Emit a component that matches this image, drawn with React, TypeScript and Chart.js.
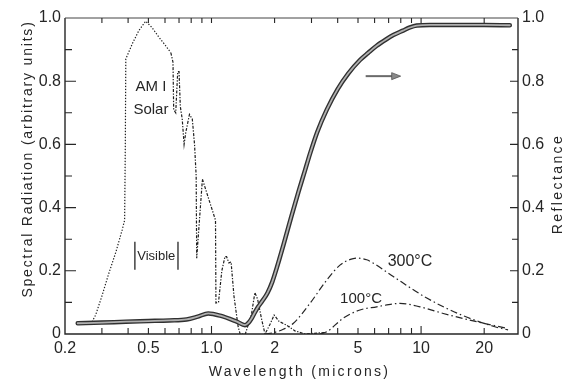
import { useEffect, useRef } from 'react';
import { Chart, registerables } from 'chart.js';

Chart.register(...registerables);

// ---- data ----
const solarWl = [0.265, 0.28, 0.3, 0.323, 0.35, 0.375, 0.385, 0.388, 0.39, 0.42, 0.45, 0.485, 0.52, 0.56, 0.6, 0.64, 0.655, 0.66, 0.675, 0.69, 0.7, 0.71, 0.725, 0.74, 0.755, 0.785, 0.81, 0.83, 0.845, 0.85, 0.905, 1.045, 1.05, 1.08, 1.12, 1.16, 1.18, 1.21, 1.24, 1.28, 1.34, 1.37, 1.45, 1.55, 1.61, 1.66, 1.73, 1.8, 1.9, 1.99, 2.1, 2.28, 2.5, 2.8, 3.5];
const solarVal = [0.03, 0.06, 0.12, 0.19, 0.26, 0.33, 0.36, 0.6, 0.87, 0.92, 0.96, 0.99, 0.97, 0.94, 0.915, 0.89, 0.86, 0.71, 0.7, 0.83, 0.83, 0.72, 0.68, 0.6, 0.64, 0.695, 0.68, 0.6, 0.5, 0.24, 0.49, 0.36, 0.098, 0.1, 0.2, 0.245, 0.245, 0.225, 0.228, 0.12, 0.023, 0.0, 0.0, 0.06, 0.131, 0.11, 0.05, 0.0, 0.03, 0.06, 0.04, 0.028, 0.01, 0.0, 0.005];

const reflWl = [0.23, 0.3, 0.39, 0.5, 0.63, 0.76, 0.86, 0.965, 1.1, 1.32, 1.445, 1.5, 1.55, 1.6, 1.67, 1.75, 1.85, 1.95, 2.05, 2.2, 2.4, 2.6, 2.8, 2.95, 3.2, 3.55, 4.0, 4.5, 5.11, 5.6, 6.14, 6.8, 7.37, 8.2, 8.85, 9.53, 11, 15, 20, 26.5];
const reflVal = [0.034, 0.036, 0.039, 0.041, 0.043, 0.046, 0.055, 0.065, 0.058, 0.039, 0.028, 0.035, 0.048, 0.065, 0.086, 0.105, 0.13, 0.165, 0.21, 0.28, 0.37, 0.45, 0.52, 0.57, 0.64, 0.71, 0.775, 0.825, 0.867, 0.89, 0.912, 0.932, 0.946, 0.96, 0.97, 0.976, 0.978, 0.978, 0.978, 0.977];

const bb300Wl = [1.8, 2.0, 2.2, 2.46, 2.95, 3.55, 4.1, 4.6, 4.96, 5.5, 5.96, 7.4, 10.7, 15.6, 22.5, 26];
const bb300Val = [0.0, 0.005, 0.015, 0.034, 0.097, 0.171, 0.218, 0.236, 0.24, 0.235, 0.223, 0.181, 0.113, 0.06, 0.023, 0.013];

const bb100Wl = [3.3, 3.55, 4.25, 5.11, 6.14, 7.0, 7.93, 9.88, 12.76, 18.4, 25.7];
const bb100Val = [0.0, 0.007, 0.05, 0.076, 0.086, 0.093, 0.097, 0.086, 0.065, 0.039, 0.018];

const xTickValues = [0.2, 0.5, 1, 2, 5, 10, 20];
const xTickLabels = ['0.2', '0.5', '1.0', '2', '5', '10', '20'];
const xTickMarks = [0.3, 0.4, 0.5, 0.6, 0.7, 0.8, 0.9, 1, 2, 3, 4, 5, 6, 7, 8, 9, 10, 20];
const xMajorMarks = [1, 10];
const yTickValues = [0, 0.2, 0.4, 0.6, 0.8, 1];
const yTickLabels = ['0', '0.2', '0.4', '0.6', '0.8', '1.0'];
const yTickMarks = [0.1, 0.2, 0.3, 0.4, 0.5, 0.6, 0.7, 0.8, 0.9];
const yMajorMarks = [0.2, 0.4, 0.6, 0.8];

// ---- annotation anchors (data coordinates) ----
const notes = {
  am1: { x: 0.514, y: 0.782, text: 'AM I' },
  solar: { x: 0.514, y: 0.709, text: 'Solar' },
  visible: { x: 0.545, y: 0.247, text: 'Visible', barL: 0.431, barR: 0.692, y0: 0.203, y1: 0.292 },
  c300: { x: 8.85, y: 0.229, text: '300°C' },
  c100: { x: 5.17, y: 0.112, text: '100°C' },
  arrow: { x0: 5.44, x1: 7.99, y: 0.816 },
};

const INK = '#262626';
const FONT = '"Liberation Sans", Arial, sans-serif';

const toXY = (xs: number[], ys: number[]) => xs.map((x, i) => ({ x, y: ys[i] }));

const decor = {
  id: 'decor',
  afterDraw(chart: any) {
    const { ctx, chartArea: a, scales } = chart;
    const sx = scales.x;
    const sy = scales.y;
    ctx.save();
    // frame
    ctx.strokeStyle = INK;
    ctx.lineWidth = 1.4;
    ctx.beginPath();
    ctx.moveTo(a.left, a.top);
    ctx.lineTo(a.left, a.bottom);
    ctx.lineTo(a.right, a.bottom);
    ctx.lineTo(a.right, a.top);
    ctx.stroke();
    ctx.lineWidth = 1;
    ctx.strokeStyle = '#444';
    ctx.beginPath();
    ctx.moveTo(a.left, a.top);
    ctx.lineTo(a.right, a.top);
    ctx.stroke();

    // inward ticks
    ctx.strokeStyle = INK;
    ctx.lineWidth = 1.1;
    ctx.beginPath();
    for (const v of xTickMarks) {
      const px = sx.getPixelForValue(v);
      const len = xMajorMarks.includes(v) ? 8 : 6;
      ctx.moveTo(px, a.bottom);
      ctx.lineTo(px, a.bottom - len);
      ctx.moveTo(px, a.top);
      ctx.lineTo(px, a.top + 5);
    }
    for (const v of yTickMarks) {
      const py = sy.getPixelForValue(v);
      const maj = yMajorMarks.includes(v);
      ctx.moveTo(a.left, py);
      ctx.lineTo(a.left + (maj ? 11 : 7), py);
      ctx.moveTo(a.right, py);
      ctx.lineTo(a.right - (maj ? 8 : 6), py);
    }
    ctx.stroke();

    // annotations
    ctx.fillStyle = INK;
    ctx.textAlign = 'center';
    ctx.textBaseline = 'middle';
    const put = (n: any, size: number) => {
      ctx.font = `${size}px ${FONT}`;
      ctx.fillText(n.text, sx.getPixelForValue(n.x), sy.getPixelForValue(n.y));
    };
    put(notes.am1, 15);
    put(notes.solar, 15);
    put(notes.visible, 13);
    put(notes.c300, 16);
    put(notes.c100, 15);

    const vb = notes.visible;
    ctx.lineWidth = 1.3;
    ctx.beginPath();
    for (const bx of [vb.barL, vb.barR]) {
      const px = sx.getPixelForValue(bx);
      ctx.moveTo(px, sy.getPixelForValue(vb.y0));
      ctx.lineTo(px, sy.getPixelForValue(vb.y1));
    }
    ctx.stroke();

    // arrow
    const ar = notes.arrow;
    const ax0 = sx.getPixelForValue(ar.x0);
    const ax1 = sx.getPixelForValue(ar.x1);
    const ay = sy.getPixelForValue(ar.y);
    ctx.strokeStyle = '#6a6a6a';
    ctx.lineWidth = 2;
    ctx.beginPath();
    ctx.moveTo(ax0, ay);
    ctx.lineTo(ax1 - 6, ay);
    ctx.stroke();
    ctx.fillStyle = '#8a8a8a';
    ctx.beginPath();
    ctx.moveTo(ax1, ay);
    ctx.lineTo(ax1 - 9, ay - 3.5);
    ctx.lineTo(ax1 - 9, ay + 3.5);
    ctx.closePath();
    ctx.fill();
    ctx.strokeStyle = '#555';
    ctx.lineWidth = 0.8;
    ctx.stroke();

    // axis titles
    ctx.fillStyle = INK;
    ctx.font = `14px ${FONT}`;
    (ctx as any).letterSpacing = '2.3px';
    ctx.fillText('Wavelength (microns)', (a.left + a.right) / 2 + 8, a.bottom + 38);
    ctx.save();
    ctx.translate(a.left - 37, a.top + 141);
    ctx.rotate(-Math.PI / 2);
    (ctx as any).letterSpacing = '1.8px';
    ctx.fillText('Spectral Radiation (arbitrary units)', 0, 0);
    ctx.restore();
    ctx.save();
    ctx.translate(a.right + 40, a.top + 166);
    ctx.rotate(-Math.PI / 2);
    (ctx as any).letterSpacing = '2.4px';
    ctx.fillText('Reflectance', 0, 0);
    ctx.restore();
    ctx.restore();
  },
};

export default function App() {
  const ref = useRef<HTMLCanvasElement>(null);
  useEffect(() => {
    if (!ref.current) return;
    const tickFont = { family: FONT, size: 16 };
    const chart = new Chart(ref.current, {
      type: 'line',
      data: {
        datasets: [
          {
            data: toXY(solarWl, solarVal),
            order: 3,
            borderColor: '#1e1e1e',
            borderWidth: 1.2,
            pointRadius: 0,
            tension: 0,
            borderDash: [1.3, 1.7],
            segment: {
              borderDash: (c: any) => (c.p0.parsed.x >= 0.64 ? [3, 1.5, 1.3, 1.5] : [1.3, 1.7]),
            },
          } as any,
          {
            data: toXY(bb300Wl, bb300Val),
            order: 3,
            borderColor: INK,
            borderWidth: 1.2,
            pointRadius: 0,
            cubicInterpolationMode: 'monotone',
            borderDash: [7, 3, 1.5, 3],
          },
          {
            data: toXY(bb100Wl, bb100Val),
            order: 3,
            borderColor: INK,
            borderWidth: 1.2,
            pointRadius: 0,
            cubicInterpolationMode: 'monotone',
            borderDash: [7, 3, 1.5, 3],
          },
          {
            data: toXY(reflWl, reflVal),
            order: 2,
            yAxisID: 'y2',
            borderColor: '#303030',
            borderWidth: 4.5,
            pointRadius: 0,
            cubicInterpolationMode: 'monotone',
            borderCapStyle: 'round',
          },
          {
            data: toXY(reflWl, reflVal),
            order: 1,
            yAxisID: 'y2',
            borderColor: '#b0b0b0',
            borderWidth: 1.8,
            pointRadius: 0,
            cubicInterpolationMode: 'monotone',
            borderCapStyle: 'round',
          },
        ],
      },
      options: {
        animation: false,
        responsive: false,
        maintainAspectRatio: false,
        layout: { padding: { left: 0, right: 0, top: 18, bottom: 0 } },
        plugins: { legend: { display: false }, tooltip: { enabled: false } },
        scales: {
          x: {
            type: 'logarithmic',
            min: 0.2,
            max: 29,
            position: 'bottom',
            grid: { display: false, drawTicks: false },
            border: { display: false },
            afterBuildTicks: (s: any) => {
              s.ticks = xTickValues.map((v) => ({ value: v }));
            },
            afterFit: (s: any) => {
              s.height = 48;
            },
            ticks: {
              autoSkip: false,
              maxRotation: 0,
              padding: 5,
              color: INK,
              font: tickFont,
              callback: (_v: any, i: number) => xTickLabels[i],
            },
          },
          y: {
            type: 'linear',
            min: 0,
            max: 1,
            position: 'left',
            grid: { display: false, drawTicks: false },
            border: { display: false },
            afterBuildTicks: (s: any) => {
              s.ticks = yTickValues.map((v) => ({ value: v }));
            },
            afterFit: (s: any) => {
              s.width = 65;
            },
            ticks: {
              padding: 4,
              color: INK,
              font: tickFont,
              callback: (_v: any, i: number) => yTickLabels[i],
            },
          },
          y2: {
            type: 'linear',
            min: 0,
            max: 1,
            position: 'right',
            grid: { display: false, drawTicks: false },
            border: { display: false },
            afterBuildTicks: (s: any) => {
              s.ticks = yTickValues.map((v) => ({ value: v }));
            },
            afterFit: (s: any) => {
              s.width = 50;
            },
            ticks: {
              padding: 4,
              color: INK,
              font: tickFont,
              callback: (_v: any, i: number) => yTickLabels[i],
            },
          },
        },
      },
      plugins: [decor],
    } as any);
    return () => chart.destroy();
  }, []);
  return (
    <div style={{ position: 'fixed', left: 0, top: 0, width: 568, height: 382, background: '#fff' }}>
      <canvas ref={ref} width={568} height={382} style={{ width: 568, height: 382, display: 'block' }} />
    </div>
  );
}
